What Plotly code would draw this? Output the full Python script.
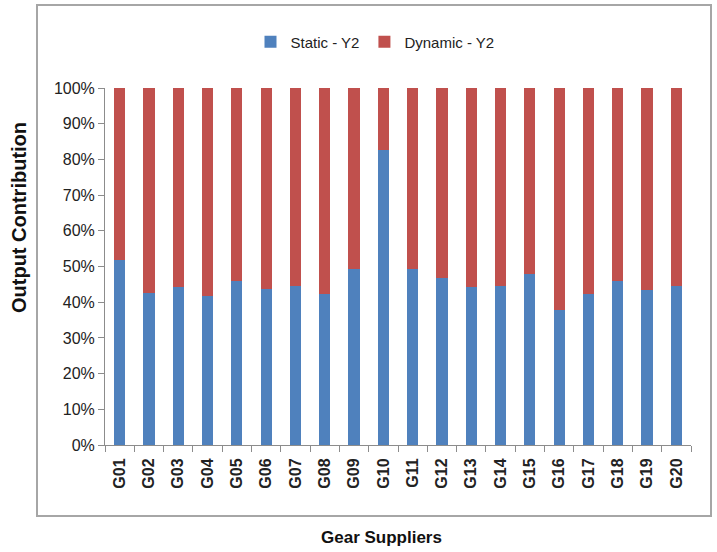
import plotly.graph_objects as go

# Gear supplier codes and each supplier's share of output (fractions of 1)
suppliers = ["G01", "G02", "G03", "G04", "G05", "G06", "G07", "G08", "G09", "G10",
             "G11", "G12", "G13", "G14", "G15", "G16", "G17", "G18", "G19", "G20"]
static_y2 = [0.517, 0.427, 0.443, 0.417, 0.459, 0.437, 0.446, 0.422, 0.493, 0.826,
             0.493, 0.469, 0.443, 0.446, 0.479, 0.378, 0.422, 0.459, 0.433, 0.446]
dynamic_y2 = [0.483, 0.573, 0.557, 0.583, 0.541, 0.563, 0.554, 0.578, 0.507, 0.174,
              0.507, 0.531, 0.557, 0.554, 0.521, 0.622, 0.578, 0.541, 0.567, 0.554]
y_ticks = [0.0, 0.1, 0.2, 0.3, 0.4, 0.5, 0.6, 0.7, 0.8, 0.9, 1.0]

W, H = 717, 552
L, R, T, B = 105, 26, 88, 107
pw, ph = W - L - R, H - T - B


def px_x(x):
    return (x - L) / pw


def px_y(y):
    return (H - B - y) / ph


fig = go.Figure()
fig.add_trace(go.Bar(x=suppliers, y=static_y2, name="Static - Y2",
                     marker=dict(color="#4F81BD", line=dict(width=0))))
fig.add_trace(go.Bar(x=suppliers, y=dynamic_y2, name="Dynamic - Y2",
                     marker=dict(color="#C0504D", line=dict(width=0))))

fig.update_layout(
    width=W, height=H,
    margin=dict(l=L, r=R, t=T, b=B),
    barmode="stack",
    bargap=0.62,
    plot_bgcolor="white",
    paper_bgcolor="white",
    font=dict(family="Liberation Sans, Arial, sans-serif", color="#222222"),
    legend=dict(orientation="h", traceorder="normal",
                x=px_x(375), y=px_y(42), xanchor="center", yanchor="middle",
                font=dict(size=15, family="Liberation Sans Narrow, Liberation Sans, sans-serif",
                          color="#222222"),
                itemwidth=30),
    xaxis=dict(
        type="category",
        showline=True, linecolor="#8C8C8C", linewidth=1,
        ticks="outside", tickson="boundaries", ticklen=6, tickcolor="#8C8C8C",
        tickangle=-90, ticklabelstandoff=6,
        tickfont=dict(size=16, family="Liberation Sans, Arial, sans-serif", color="#222222",
                      weight="bold"),
        showgrid=False, zeroline=False,
    ),
    yaxis=dict(
        range=[0, 1],
        tickvals=y_ticks, tickformat=".0%",
        showline=True, linecolor="#8C8C8C", linewidth=1,
        ticks="outside", ticklen=6, tickcolor="#8C8C8C",
        tickfont=dict(size=16, family="Liberation Sans Narrow, Liberation Sans, sans-serif",
                      color="#222222"),
        showgrid=False, zeroline=False,
    ),
    showlegend=True,
)

# Outer chart frame
fig.add_shape(type="rect", xref="paper", yref="paper",
              x0=px_x(37), x1=px_x(711), y0=px_y(516), y1=px_y(5),
              line=dict(color="#A6A6A6", width=2), fillcolor="rgba(0,0,0,0)", layer="below")

# Axis titles
fig.add_annotation(text="<b>Gear Suppliers</b>", xref="paper", yref="paper",
                   x=px_x(381), y=px_y(537), xanchor="center", yanchor="middle",
                   showarrow=False,
                   font=dict(size=17, family="Liberation Sans, Arial, sans-serif", color="#111111"))
fig.add_annotation(text="<b>Output Contribution</b>", xref="paper", yref="paper",
                   x=px_x(19), y=px_y(218), xanchor="center", yanchor="middle",
                   showarrow=False, textangle=-90,
                   font=dict(size=20, family="Liberation Sans, Arial, sans-serif", color="#111111"))

fig.write_html("out.html")
